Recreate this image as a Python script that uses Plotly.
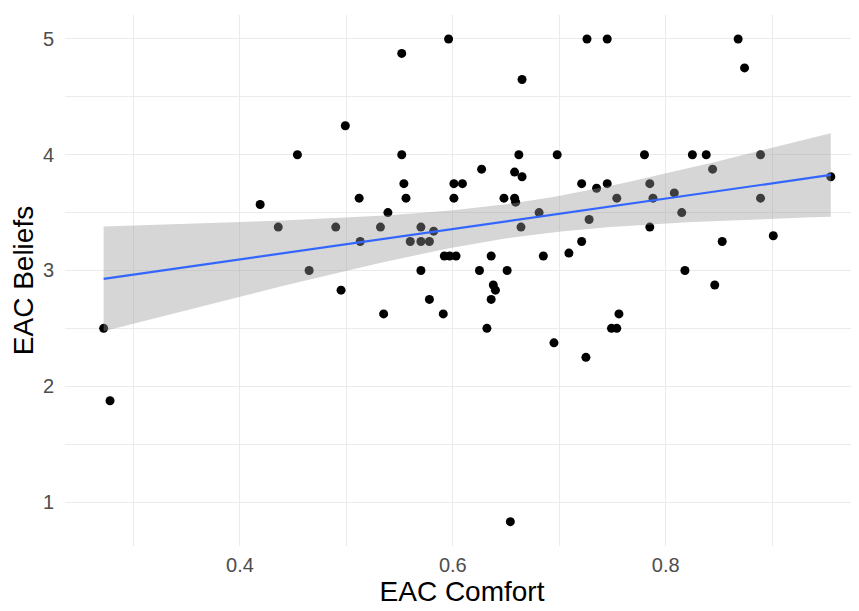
import numpy as np
import plotly.graph_objects as go

comfort = [0.272, 0.278, 0.419, 0.436, 0.454, 0.465, 0.490, 0.495, 0.499, 0.512,
           0.513, 0.532, 0.535, 0.539, 0.552, 0.552, 0.554, 0.556, 0.560, 0.570,
           0.570, 0.570, 0.578, 0.578, 0.582, 0.591, 0.592, 0.596, 0.597, 0.601,
           0.601, 0.603, 0.609, 0.625, 0.627, 0.632, 0.636, 0.636, 0.638, 0.640,
           0.648, 0.651, 0.654, 0.658, 0.658, 0.659, 0.662, 0.664, 0.665, 0.665,
           0.681, 0.685, 0.695, 0.698, 0.709, 0.721, 0.721, 0.725, 0.726, 0.728,
           0.735, 0.745, 0.745, 0.749, 0.754, 0.754, 0.756, 0.780, 0.785, 0.785,
           0.788, 0.808, 0.815, 0.818, 0.825, 0.838, 0.844, 0.846, 0.853, 0.868,
           0.874, 0.889, 0.889, 0.901, 0.955]
beliefs = [2.50, 1.875, 3.57, 3.375, 4.00, 3.00, 3.375, 2.83, 4.25, 3.625,
           3.25, 3.375, 2.625, 3.50, 4.875, 4.00, 3.75, 3.625, 3.25, 3.375,
           3.25, 3.00, 3.25, 2.75, 3.34, 2.625, 3.125, 5.00, 3.125, 3.75,
           3.625, 3.125, 3.75, 3.00, 3.875, 2.50, 3.125, 2.75, 2.875, 2.83,
           3.625, 3.00, 0.83, 3.85, 3.625, 3.59, 4.00, 3.375, 3.81, 4.65,
           3.50, 3.125, 2.375, 4.00, 3.15, 3.75, 3.25, 2.25, 5.00, 3.44,
           3.71, 5.00, 3.75, 2.50, 2.50, 3.625, 2.625, 4.00, 3.75, 3.375,
           3.625, 3.67, 3.50, 3.00, 4.00, 4.00, 3.875, 2.875, 3.25, 5.00,
           4.75, 4.00, 3.625, 3.30, 3.81]

x_ticks = [0.4, 0.6, 0.8]
x_tick_labels = ["0.4", "0.6", "0.8"]
y_ticks = [1, 2, 3, 4, 5]
y_tick_labels = ["1", "2", "3", "4", "5"]

# --- linear model with 95% confidence band (like geom_smooth(method="lm")) ---
x = np.array(comfort)
y = np.array(beliefs)
n = len(x)
slope, intercept = np.polyfit(x, y, 1)
resid = y - (intercept + slope * x)
df = n - 2
s = np.sqrt(np.sum(resid ** 2) / df)
z = 1.959964
tq = z + (z ** 3 + z) / (4 * df) + (5 * z ** 5 + 16 * z ** 3 + 3 * z) / (96 * df ** 2)
xs = np.linspace(x.min(), x.max(), 80)
fit = intercept + slope * xs
se = s * np.sqrt(1 / n + (xs - x.mean()) ** 2 / np.sum((x - x.mean()) ** 2))
lo = fit - tq * se
hi = fit + tq * se

fig = go.Figure()
fig.add_trace(go.Scatter(x=comfort, y=beliefs, mode="markers",
                         marker=dict(color="black", size=9, line=dict(width=0)),
                         hoverinfo="skip", showlegend=False))
fig.add_trace(go.Scatter(x=xs, y=lo, mode="lines", line=dict(width=0),
                         hoverinfo="skip", showlegend=False))
fig.add_trace(go.Scatter(x=xs, y=hi, mode="lines", line=dict(width=0),
                         fill="tonexty", fillcolor="rgba(153,153,153,0.4)",
                         hoverinfo="skip", showlegend=False))
fig.add_trace(go.Scatter(x=xs, y=fit, mode="lines",
                         line=dict(color="#3366FF", width=2.2),
                         hoverinfo="skip", showlegend=False))

grid = "#EBEBEB"
# the page body has an 8px margin, so the figure is 8px smaller than the window
fig.update_layout(
    width=851, height=603,
    margin=dict(l=57, r=0, t=7, b=65, autoexpand=False),
    paper_bgcolor="white", plot_bgcolor="white",
    font=dict(family="Liberation Sans, Arial, sans-serif"),
    xaxis=dict(
        range=[0.2357, 0.9815],
        tickmode="array", tickvals=x_ticks, ticktext=x_tick_labels,
        showgrid=True, gridcolor=grid, gridwidth=1.3,
        zeroline=False, showline=False, ticks="",
        tickfont=dict(size=20, color="#4D4D4D"),
        ticklabelstandoff=5,
        minor=dict(tickmode="array", tickvals=[0.3, 0.5, 0.7, 0.9],
                   showgrid=True, gridcolor=grid, gridwidth=0.8),
        title=dict(text="EAC Comfort", font=dict(size=28, color="black"), standoff=3),
    ),
    yaxis=dict(
        range=[0.62, 5.207],
        tickmode="array", tickvals=y_ticks, ticktext=y_tick_labels,
        showgrid=True, gridcolor=grid, gridwidth=1.3,
        zeroline=False, showline=False, ticks="",
        tickfont=dict(size=20, color="#4D4D4D"),
        ticklabelstandoff=10,
        minor=dict(tickmode="array", tickvals=[1.5, 2.5, 3.5, 4.5],
                   showgrid=True, gridcolor=grid, gridwidth=0.8),
        title=dict(text="EAC Beliefs", font=dict(size=28, color="black"), standoff=4),
    ),
)

fig.write_html("out.html")
